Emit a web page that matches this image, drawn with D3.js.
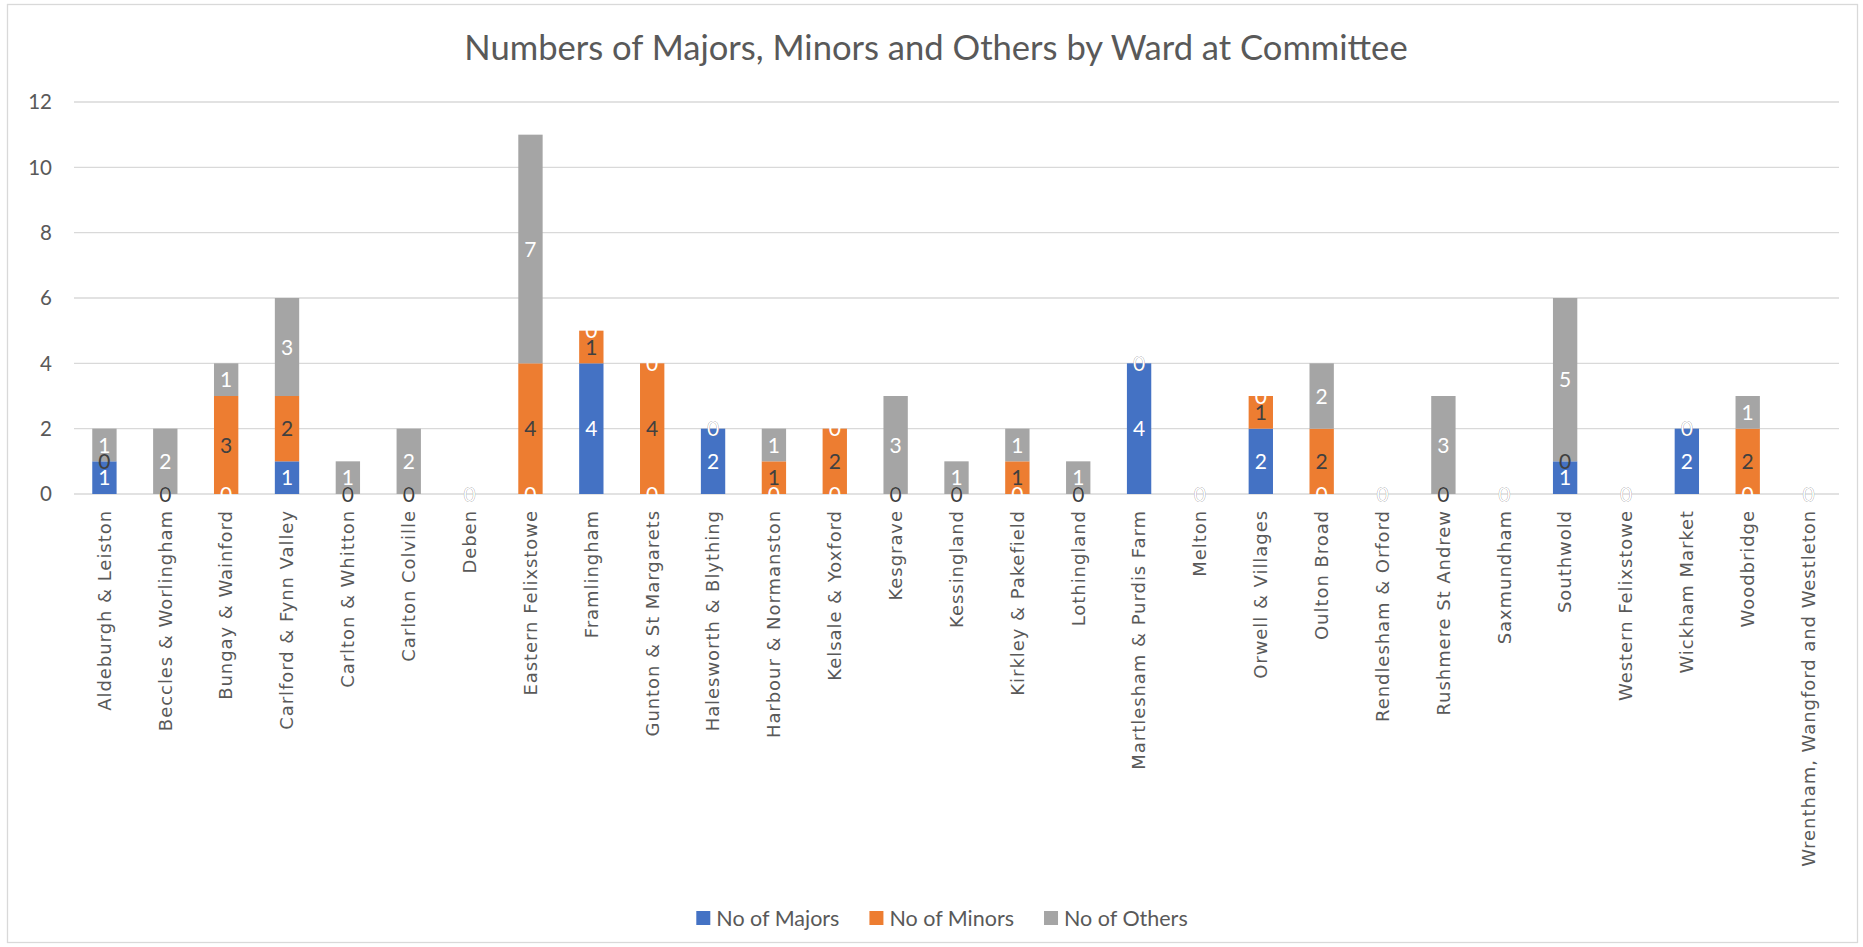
<!DOCTYPE html>
<html lang="en">
<head>
<meta charset="utf-8">
<title>Numbers of Majors, Minors and Others by Ward at Committee</title>
<style>
  body { margin: 0; background: #fff; }
  .grid line { stroke: #d9d9d9; stroke-width: 1.3; }
  .ytick text { font-family: Lato, "Open Sans", sans-serif; font-size: 20.5px; fill: #595959; }
  .cat text { font-family: "DejaVu Sans", sans-serif; font-size: 18px; letter-spacing: 0.95px; fill: #595959; }
  .dlabel { font-family: Lato, "Open Sans", sans-serif; font-size: 21px; text-anchor: middle; }
</style>
</head>
<body>
<script src="https://cdn.jsdelivr.net/npm/d3@7/dist/d3.min.js"></script>
<script>
// data
var wards = ["Aldeburgh & Leiston", "Beccles & Worlingham", "Bungay & Wainford", "Carlford & Fynn Valley",
  "Carlton & Whitton", "Carlton Colville", "Deben", "Eastern Felixstowe", "Framlingham",
  "Gunton & St Margarets", "Halesworth & Blything", "Harbour & Normanston", "Kelsale & Yoxford",
  "Kesgrave", "Kessingland", "Kirkley & Pakefield", "Lothingland", "Martlesham & Purdis Farm",
  "Melton", "Orwell & Villages", "Oulton Broad", "Rendlesham & Orford", "Rushmere St Andrew",
  "Saxmundham", "Southwold", "Western Felixstowe", "Wickham Market", "Woodbridge",
  "Wrentham, Wangford and Westleton"];
var majors = [1, 0, 0, 1, 0, 0, 0, 0, 4, 0, 2, 0, 0, 0, 0, 0, 0, 4, 0, 2, 0, 0, 0, 0, 1, 0, 2, 0, 0];
var minors = [0, 0, 3, 2, 0, 0, 0, 4, 1, 4, 0, 1, 2, 0, 0, 1, 0, 0, 0, 1, 2, 0, 0, 0, 0, 0, 0, 2, 0];
var others = [1, 2, 1, 3, 1, 2, 0, 7, 0, 0, 0, 1, 0, 3, 1, 1, 1, 0, 0, 0, 2, 0, 3, 0, 5, 0, 0, 1, 0];
var seriesNames = ["No of Majors", "No of Minors", "No of Others"];
var yTicks = [0, 2, 4, 6, 8, 10, 12];

var colors = ["#4472c4", "#ed7d31", "#a5a5a5"];
var labelColors = ["#ffffff", "#404040", "#ffffff"];

var w = 1863, h = 947;
var plotL = 74, plotR = 1839, plotT = 102, plotB = 494;

var svg = d3.select("body").append("svg").attr("width", w).attr("height", h);

// chart frame
svg.append("rect").attr("x", 7.5).attr("y", 4.5).attr("width", 1850).attr("height", 938)
  .attr("fill", "#fff").attr("stroke", "#d9d9d9").attr("stroke-width", 1.3);

svg.append("text").text("Numbers of Majors, Minors and Others by Ward at Committee")
  .attr("x", 936).attr("y", 60)
  .attr("text-anchor", "middle")
  .attr("font-family", "Lato, 'Open Sans', sans-serif")
  .attr("font-size", "34.6px")
  .attr("fill", "#595959");

var x = d3.scaleBand().domain(wards).range([plotL, plotR]).paddingInner(0.6).paddingOuter(0.3);
var y = d3.scaleLinear().domain([0, 12]).range([plotB, plotT]);

// gridlines + y tick labels
var grid = svg.append("g").attr("class", "grid");
grid.selectAll("line").data(yTicks).enter().append("line")
  .attr("x1", plotL).attr("x2", plotR)
  .attr("y1", function(d) { return y(d); }).attr("y2", function(d) { return y(d); });
var yt = svg.append("g").attr("class", "ytick");
yt.selectAll("text").data(yTicks).enter().append("text")
  .attr("x", 52).attr("y", function(d) { return y(d); })
  .attr("dy", "0.36em").attr("text-anchor", "end")
  .text(function(d) { return d; });

// stacked bars
var rows = wards.map(function(wd, i) {
  return { ward: wd, s0: majors[i], s1: minors[i], s2: others[i] };
});
var stack = d3.stack().keys(["s0", "s1", "s2"]);
var layers = stack(rows);

var barg = svg.append("g");
layers.forEach(function(layer, k) {
  barg.append("g").selectAll("rect").data(layer).enter().append("rect")
    .attr("x", function(d) { return x(d.data.ward); })
    .attr("width", x.bandwidth())
    .attr("y", function(d) { return y(d[1]); })
    .attr("height", function(d) { return y(d[0]) - y(d[1]); })
    .attr("fill", colors[k]);
});

// category labels
var cat = svg.append("g").attr("class", "cat");
cat.selectAll("text").data(wards).enter().append("text")
  .attr("transform", function(d) {
    return "translate(" + (x(d) + x.bandwidth() / 2) + "," + 510 + ") rotate(-90)";
  })
  .attr("dy", "0.35em")
  .attr("text-anchor", "end")
  .text(function(d) { return d; });

// data labels, drawn series by series
var lab = svg.append("g");
layers.forEach(function(layer, k) {
  lab.append("g").selectAll("text").data(layer).enter().append("text")
    .attr("class", "dlabel")
    .attr("x", function(d) { return x(d.data.ward) + x.bandwidth() / 2; })
    .attr("y", function(d) { return y((d[0] + d[1]) / 2); })
    .attr("dy", "0.36em")
    .attr("fill", labelColors[k])
    .text(function(d) { return d[1] - d[0]; });
});

// legend
var legend = svg.append("g");
var lx = 0;
seriesNames.forEach(function(name, k) {
  var g = legend.append("g");
  g.append("rect").attr("x", lx).attr("y", -7).attr("width", 14).attr("height", 14).attr("fill", colors[k]);
  var t = g.append("text").text(name)
    .attr("x", lx + 20).attr("y", 0).attr("dy", "0.36em")
    .attr("font-family", "Lato, 'Open Sans', sans-serif")
    .attr("font-size", "21.5px").attr("fill", "#595959");
  lx += 20 + t.node().getComputedTextLength() + 30;
});
var legW = lx - 30;
legend.attr("transform", "translate(" + (942 - legW / 2) + ",918)");
</script>
</body>
</html>
